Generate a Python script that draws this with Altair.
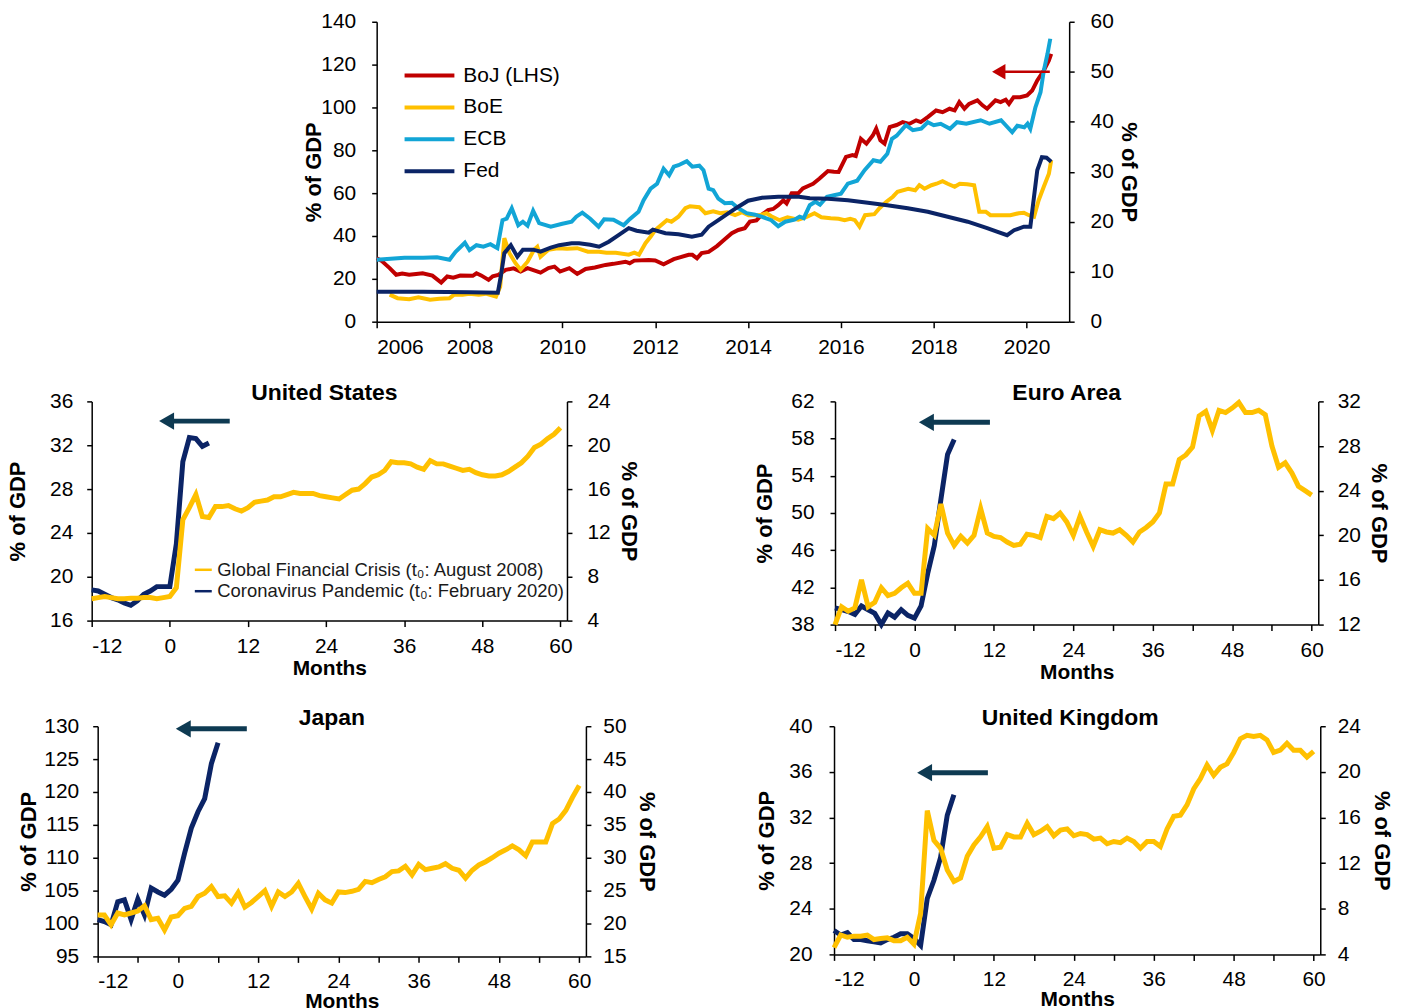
import altair as alt
import pandas as pd

FONT = "Liberation Sans"
NAVY = "#0B2466"
GOLD = "#FFC000"
RED = "#C00000"
SKY = "#12A5D6"
ARROW = "#0E3A52"

# ---------------- top panel: central bank balance sheets (% of GDP) ----------------
boj_t = [2006.00, 2006.10, 2006.28, 2006.42, 2006.55, 2006.70, 2006.85, 2006.99, 2007.20, 2007.39,
         2007.52, 2007.65, 2007.80, 2008.07, 2008.15, 2008.25, 2008.41, 2008.50, 2008.62, 2008.78,
         2008.95, 2009.10, 2009.25, 2009.53, 2009.70, 2009.83, 2009.95, 2010.15, 2010.32, 2010.50,
         2010.70, 2010.93, 2011.10, 2011.36, 2011.45, 2011.55, 2011.86, 2012.00, 2012.18, 2012.40,
         2012.72, 2012.80, 2012.90, 2013.00, 2013.15, 2013.33, 2013.48, 2013.65, 2013.79, 2013.93,
         2014.04, 2014.18, 2014.29, 2014.43, 2014.54, 2014.65, 2014.76, 2014.83, 2014.94, 2015.08,
         2015.18, 2015.33, 2015.40, 2015.54, 2015.72, 2015.85, 2015.95, 2016.11, 2016.25, 2016.32,
         2016.43, 2016.55, 2016.69, 2016.76, 2016.85, 2016.94, 2017.05, 2017.20, 2017.33, 2017.47,
         2017.62, 2017.72, 2017.87, 2018.05, 2018.19, 2018.34, 2018.45, 2018.55, 2018.66, 2018.76,
         2018.94, 2019.05, 2019.15, 2019.33, 2019.44, 2019.55, 2019.62, 2019.72, 2019.86, 2020.01,
         2020.12, 2020.23, 2020.37, 2020.48, 2020.53]
boj_v = [29.6, 28.5, 25.0, 21.9, 22.5, 21.9, 22.3, 22.6, 21.5, 18.3,
         21.1, 20.5, 21.5, 21.4, 22.6, 21.6, 19.5, 21.2, 21.8, 24.2,
         24.9, 23.4, 25.0, 22.9, 25.0, 25.7, 23.4, 25.0, 22.3, 24.6,
         25.3, 26.5, 27.0, 28.0, 27.3, 28.5, 28.8, 28.6, 26.8, 29.2,
         31.2, 31.2, 29.6, 32.0, 32.6, 35.3, 38.1, 41.3, 42.8, 43.6,
         46.7, 47.3, 49.8, 52.1, 52.6, 54.4, 56.7, 55.2, 59.9, 59.9,
         62.2, 63.7, 64.4, 66.8, 70.3, 70.0, 69.9, 76.9, 77.8, 77.3,
         85.4, 83.1, 87.0, 90.1, 84.7, 83.1, 90.8, 91.8, 93.2, 92.3,
         94.0, 93.2, 95.5, 98.6, 97.8, 99.4, 98.6, 102.5, 99.4, 101.7,
         103.3, 101.0, 99.4, 103.3, 102.5, 103.6, 101.7, 104.8, 104.8, 105.6,
         107.9, 112.6, 117.2, 121.9, 125.0]

boe_t = [2006.28, 2006.45, 2006.70, 2006.90, 2007.15, 2007.35, 2007.57, 2007.67, 2007.85, 2008.00,
         2008.20, 2008.35, 2008.57, 2008.66, 2008.75, 2008.86, 2008.99, 2009.10, 2009.25, 2009.39,
         2009.46, 2009.53, 2009.70, 2009.90, 2010.10, 2010.32, 2010.55, 2010.79, 2010.95, 2011.15,
         2011.43, 2011.55, 2011.65, 2011.79, 2011.90, 2012.00, 2012.25, 2012.35, 2012.50, 2012.65,
         2012.75, 2012.95, 2013.08, 2013.25, 2013.40, 2013.55, 2013.72, 2013.87, 2014.01, 2014.25,
         2014.40, 2014.50, 2014.68, 2014.85, 2015.08, 2015.25, 2015.43, 2015.58, 2015.78, 2015.95,
         2016.08, 2016.20, 2016.30, 2016.40, 2016.52, 2016.72, 2016.83, 2016.98, 2017.12, 2017.22,
         2017.45, 2017.60, 2017.69, 2017.80, 2017.95, 2018.06, 2018.19, 2018.30, 2018.45, 2018.56,
         2018.72, 2018.87, 2018.98, 2019.12, 2019.22, 2019.45, 2019.65, 2019.83, 2019.94, 2020.05,
         2020.16, 2020.26, 2020.37, 2020.48, 2020.53]
boe_v = [5.4, 4.7, 4.5, 4.9, 4.4, 4.6, 4.7, 5.4, 5.4, 5.6,
         5.4, 5.6, 5.0, 7.0, 16.7, 13.7, 11.7, 10.4, 12.0, 14.4,
         15.0, 13.0, 14.4, 14.7, 14.6, 14.7, 14.0, 14.0, 13.8, 13.8,
         13.4, 13.8, 13.4, 15.7, 17.0, 18.3, 20.3, 20.0, 21.0, 22.7,
         23.1, 22.9, 21.7, 22.1, 21.7, 21.9, 21.3, 21.9, 21.3, 21.3,
         21.7, 21.1, 20.3, 20.9, 20.4, 20.9, 21.7, 20.9, 20.7, 20.6,
         20.3, 20.6, 20.3, 19.0, 21.3, 21.5, 22.7, 24.0, 25.0, 26.0,
         26.6, 26.3, 27.3, 26.6, 27.3, 27.6, 28.1, 27.6, 27.0, 27.6,
         27.5, 27.3, 22.0, 22.0, 21.3, 21.3, 21.3, 21.7, 21.8, 21.3,
         21.0, 24.3, 27.0, 29.6, 32.3]

ecb_t = [2006.00, 2006.30, 2006.60, 2007.00, 2007.30, 2007.57, 2007.70, 2007.90, 2008.00, 2008.15,
         2008.30, 2008.45, 2008.60, 2008.71, 2008.80, 2008.91, 2009.05, 2009.15, 2009.25, 2009.37,
         2009.50, 2009.75, 2010.00, 2010.20, 2010.30, 2010.43, 2010.60, 2010.78, 2010.90, 2011.10,
         2011.32, 2011.45, 2011.64, 2011.75, 2011.90, 2012.04, 2012.18, 2012.30, 2012.40, 2012.50,
         2012.68, 2012.80, 2012.95, 2013.04, 2013.15, 2013.25, 2013.36, 2013.50, 2013.65, 2013.79,
         2013.97, 2014.15, 2014.29, 2014.50, 2014.65, 2014.80, 2015.00, 2015.11, 2015.20, 2015.33,
         2015.45, 2015.55, 2015.70, 2015.85, 2016.00, 2016.15, 2016.35, 2016.51, 2016.70, 2016.85,
         2017.00, 2017.10, 2017.20, 2017.40, 2017.55, 2017.73, 2017.87, 2018.00, 2018.15, 2018.35,
         2018.50, 2018.70, 2019.01, 2019.20, 2019.45, 2019.69, 2019.80, 2019.95, 2020.02, 2020.08,
         2020.19, 2020.30, 2020.37, 2020.45, 2020.51]
ecb_v = [12.4, 12.6, 12.8, 12.8, 12.9, 12.4, 14.0, 15.8, 14.3, 15.3,
         15.0, 15.5, 14.7, 20.3, 20.6, 22.7, 19.3, 20.0, 19.2, 22.2,
         19.7, 19.0, 19.6, 20.0, 21.0, 21.8, 20.6, 19.0, 20.5, 20.4,
         19.3, 20.5, 22.0, 24.3, 26.6, 27.6, 30.6, 29.3, 31.0, 31.3,
         32.1, 31.0, 31.2, 30.3, 26.6, 26.3, 24.6, 23.7, 23.8, 22.7,
         21.7, 21.4, 21.0, 20.3, 19.1, 20.0, 20.4, 21.0, 20.7, 23.3,
         24.0, 23.4, 25.0, 25.3, 25.6, 27.6, 28.2, 30.3, 32.3, 32.0,
         33.6, 36.6, 37.2, 39.3, 38.3, 38.6, 39.9, 39.3, 39.6, 38.6,
         39.9, 39.6, 40.3, 39.6, 40.3, 37.9, 39.2, 38.9, 39.6, 38.6,
         42.9, 45.9, 50.2, 53.6, 56.6]

fed_t = [2006.00, 2007.00, 2008.00, 2008.61, 2008.68, 2008.75, 2008.89, 2009.03, 2009.15, 2009.37,
         2009.53, 2009.75, 2009.93, 2010.20, 2010.36, 2010.60, 2010.79, 2011.00, 2011.21, 2011.43,
         2011.60, 2011.86, 2011.95, 2012.22, 2012.50, 2012.79, 2013.00, 2013.15, 2013.36, 2013.58,
         2013.79, 2014.00, 2014.30, 2014.65, 2014.90, 2015.10, 2015.33, 2015.72, 2016.15, 2016.58,
         2017.00, 2017.44, 2017.87, 2018.30, 2018.73, 2019.15, 2019.36, 2019.58, 2019.73, 2019.94,
         2020.08, 2020.23, 2020.33, 2020.43, 2020.53]
fed_v = [6.0, 6.0, 5.9, 5.8, 9.4, 13.7, 15.3, 13.0, 14.4, 14.4,
         14.0, 14.8, 15.3, 15.7, 15.7, 15.4, 15.0, 16.0, 17.3, 18.7,
         18.2, 17.8, 18.4, 17.7, 17.5, 17.0, 17.4, 19.0, 20.3, 21.7,
         23.0, 24.2, 24.8, 25.0, 25.0, 25.0, 24.7, 24.6, 24.3, 23.8,
         23.3, 22.7, 22.0, 21.0, 20.0, 18.7, 18.0, 17.3, 18.3, 19.0,
         19.0, 30.3, 32.9, 32.8, 32.0]

BANKS = ["BoJ (LHS)", "BoE", "ECB", "Fed"]
BANK_COLORS = [RED, GOLD, SKY, NAVY]

# ---------------- panels: months from t0 ----------------
GFC = "Global Financial Crisis (t\u2080: August 2008)"
COV = "Coronavirus Pandemic (t\u2080: February 2020)"

us_cov = [18.8, 18.7, 18.4, 18.1, 17.9, 17.6, 17.4, 17.8, 18.4, 18.7, 19.1, 19.1, 19.1,
          23.0, 30.5, 32.7, 32.6, 31.9, 32.2]
us_gfc = [6.0, 6.1, 6.2, 6.1, 6.0, 6.0, 6.05, 6.05, 6.1, 6.1, 6.0, 6.1, 6.2,
          7.0, 13.2, 14.3, 15.5, 13.5, 13.4, 14.4, 14.4, 14.5, 14.2,
          14.0, 14.3, 14.8, 14.9, 15.0, 15.3, 15.3, 15.5, 15.7, 15.6,
          15.6, 15.6, 15.4, 15.3, 15.2, 15.1, 15.5, 15.9, 16.0, 16.5,
          17.1, 17.3, 17.7, 18.5, 18.4, 18.4, 18.3, 18.0, 17.8, 18.6,
          18.3, 18.3, 18.1, 17.9, 17.7, 17.8, 17.5, 17.3, 17.2, 17.2,
          17.3, 17.6, 18.0, 18.4, 19.0, 19.8, 20.1, 20.6, 21.0, 21.6]

ea_cov = [39.8, 39.6, 39.4, 39.1, 40.0, 39.6, 39.2, 38.0, 39.25, 38.8, 39.6, 39.0, 38.7,
          40.0, 43.5, 46.5, 51.5, 56.3, 57.9]
ea_gfc = [12.0, 13.6, 13.2, 13.5, 16.0, 13.6, 14.0, 15.3, 14.6, 14.8, 15.3, 15.7, 14.8,
          14.8, 20.6, 20.0, 22.8, 20.2, 19.1, 19.9, 19.3, 20.0, 22.4,
          20.2, 19.9, 19.8, 19.4, 19.1, 19.2, 20.1, 20.0, 19.8, 21.7,
          21.5, 22.0, 21.2, 20.0, 21.7, 20.3, 19.0, 20.5, 20.3, 20.2,
          20.5, 20.0, 19.4, 20.3, 20.7, 21.2, 22.0, 24.6, 24.6, 26.8,
          27.2, 27.9, 30.7, 31.1, 29.4, 31.2, 31.0, 31.4, 31.9, 31.0,
          31.0, 31.2, 30.8, 28.0, 26.1, 26.5, 25.6, 24.4, 24.0, 23.6]

jp_cov = [100.6, 100.3, 99.8, 103.3, 103.6, 100.6, 103.7, 101.3, 105.4, 104.8, 104.3, 105.2, 106.6,
          110.7, 114.5, 117.0, 119.0, 124.3, 127.5]
jp_gfc = [21.3, 21.3, 19.8, 21.6, 21.3, 21.6, 21.9, 22.7, 20.6, 20.8, 19.0, 21.0, 21.2,
          22.3, 22.6, 24.1, 24.6, 25.6, 24.1, 24.2, 23.1, 24.7, 22.5,
          23.2, 24.1, 25.0, 22.6, 24.8, 24.1, 24.8, 26.1, 24.1, 22.2,
          24.6, 23.6, 23.1, 24.8, 24.7, 24.9, 25.2, 26.4, 26.2, 26.7,
          27.1, 27.9, 28.0, 28.7, 27.4, 29.0, 28.2, 28.4, 28.6, 29.1,
          28.4, 28.1, 26.9, 28.1, 28.9, 29.4, 30.0, 30.7, 31.2, 31.8,
          31.2, 30.3, 32.4, 32.4, 32.4, 35.2, 35.9, 37.2, 39.2, 41.0]

uk_cov = [22.1, 21.7, 21.9, 21.3, 21.3, 21.2, 21.1, 21.0, 21.3, 21.5, 21.8, 21.8, 21.4,
          20.8, 24.9, 26.5, 28.5, 32.2, 34.0]
uk_gfc = [4.6, 5.7, 5.5, 5.6, 5.6, 5.7, 5.3, 5.4, 5.45, 5.2, 5.2, 5.5, 4.9,
          7.6, 16.6, 14.0, 13.3, 11.4, 10.4, 10.7, 12.6, 13.6, 14.3,
          15.2, 13.3, 13.4, 14.5, 14.3, 14.3, 15.5, 14.5, 14.8, 15.2,
          14.4, 14.9, 15.0, 14.4, 14.6, 14.5, 14.1, 14.2, 13.7, 13.9,
          13.8, 14.2, 13.9, 13.3, 13.9, 13.9, 13.45, 15.0, 16.1, 16.2,
          17.1, 18.5, 19.4, 20.6, 19.7, 20.4, 20.7, 21.7, 22.9, 23.2,
          23.1, 23.2, 22.8, 21.7, 21.9, 22.5, 21.9, 21.9, 21.3, 21.8]

# arrows (annotation, data units: start, shaft end, head centre, level)
top_arrow = {"t": 2020.50, "t2": 2019.45, "head": 2019.40, "v": 50}
us_arrow = {"m": 9.2, "m2": 0.3, "head": -0.5, "v": 34.2}
ea_arrow = {"m": 11.4, "m2": 2.5, "head": 1.8, "v": 59.75}
jp_arrow = {"m": 10.3, "m2": 1.4, "head": 0.8, "v": 129.6}
uk_arrow = {"m": 11.1, "m2": 2.3, "head": 1.6, "v": 35.93}


# ---------------- top chart ----------------
TOP_XDOM = [2006, 2020.917]
top_x = alt.X("t:Q", scale=alt.Scale(domain=TOP_XDOM, nice=False, zero=False),
              axis=alt.Axis(values=list(range(2006, 2021, 2)), format="d", title=None,
                            labelPadding=9, tickSize=6))
top_color = alt.Color("bank:N", scale=alt.Scale(domain=BANKS, range=BANK_COLORS),
                      legend=alt.Legend(title=None, orient="none", legendX=41, legendY=42,
                                        symbolType="M-2.5,0H2.5", symbolSize=400,
                                        symbolStrokeWidth=4, labelFont=FONT, labelFontSize=21,
                                        labelColor="black", labelOffset=22, rowPadding=10,
                                        padding=0))
yl_top = alt.Y("v:Q", scale=alt.Scale(domain=[0, 140], nice=False),
               axis=alt.Axis(values=list(range(0, 141, 20)), orient="left", title="% of GDP",
                             labelPadding=16, titlePadding=-5))
yr_top = alt.Y("v:Q", scale=alt.Scale(domain=[0, 60], nice=False),
               axis=alt.Axis(values=list(range(0, 61, 10)), orient="right", title="% of GDP",
                             titleAngle=90, labelPadding=16, titlePadding=3))

left_df = pd.DataFrame({"t": boj_t, "v": boj_v, "bank": "BoJ (LHS)"})
right_df = pd.concat([
    pd.DataFrame({"t": boe_t, "v": boe_v, "bank": "BoE"}),
    pd.DataFrame({"t": ecb_t, "v": ecb_v, "bank": "ECB"}),
    pd.DataFrame({"t": fed_t, "v": fed_v, "bank": "Fed"}),
])
top_arrow_df = pd.DataFrame([top_arrow])

left_layer = alt.Chart(left_df).mark_line(strokeWidth=4).encode(x=top_x, y=yl_top, color=top_color)
right_lines = alt.Chart(right_df).mark_line(strokeWidth=4).encode(x=top_x, y=yr_top, color=top_color)
right_rule = alt.Chart(top_arrow_df).mark_rule(strokeWidth=2.5, color=RED).encode(
    x=top_x, x2="t2:Q", y=yr_top)
right_head = alt.Chart(top_arrow_df).mark_point(shape="triangle-left", filled=True, size=240,
                                                 color=RED, opacity=1).encode(
    x=alt.X("head:Q", scale=alt.Scale(domain=TOP_XDOM, nice=False, zero=False)), y=yr_top)
right_layer = alt.layer(right_lines, right_rule, right_head)

top = alt.layer(left_layer, right_layer).resolve_scale(y="independent").properties(
    width=695, height=301)


def spacer(w):
    return alt.Chart(pd.DataFrame({"a": [0]})).mark_point(opacity=0).encode(
        x=alt.value(0), y=alt.value(0)).properties(width=w, height=10)


top_row = alt.hconcat(spacer(300), top, spacing=0).resolve_scale(
    color="independent").resolve_legend(color="independent")


# ---------------- panels ----------------
def panel(title, cov, gfc, ldom, lstep, rdom, rstep, w, h, arrow, legend=False,
          lpad=14, ltp=13, rpad=12, rtp=6, title_off=-15, title_dx=0, xlp=9, xtp=1):
    xdom = [-12, 61]
    x = alt.X("m:Q", scale=alt.Scale(domain=xdom, nice=False, zero=False),
              axis=alt.Axis(values=list(range(-12, 61, 6)),
                            labelExpr="datum.value % 12 == 0 ? '' + datum.value : ''",
                            title="Months", titleFontSize=21, titlePadding=xtp,
                            labelPadding=xlp, tickSize=6))
    yl = alt.Y("v:Q", scale=alt.Scale(domain=ldom, nice=False, zero=False),
               axis=alt.Axis(values=list(range(ldom[0], ldom[1] + 1, lstep)), orient="left",
                             title="% of GDP", labelPadding=lpad, titlePadding=ltp))
    yr = alt.Y("v:Q", scale=alt.Scale(domain=rdom, nice=False, zero=False),
               axis=alt.Axis(values=list(range(rdom[0], rdom[1] + 1, rstep)), orient="right",
                             title="% of GDP", titleAngle=90, labelPadding=rpad,
                             titlePadding=rtp))
    cov_df = pd.DataFrame({"m": list(range(-12, -12 + len(cov))), "v": cov, "s": COV})
    gfc_df = pd.DataFrame({"m": list(range(-12, -12 + len(gfc))), "v": gfc, "s": GFC})
    if legend:
        leg = alt.Legend(title=None, orient="none", legendX=102, legendY=159,
                         symbolType="stroke", symbolSize=289, symbolStrokeWidth=2.5,
                         labelFont=FONT, labelFontSize=18.5, labelColor="#1a1a1a",
                         labelOffset=4, rowPadding=1.5, padding=0, labelLimit=500)
    else:
        leg = None
    color = alt.Color("s:N", scale=alt.Scale(domain=[GFC, COV], range=[GOLD, NAVY]), legend=leg)
    adf = pd.DataFrame([arrow])
    cov_line = alt.Chart(cov_df).mark_line(strokeWidth=5).encode(x=x, y=yl, color=color)
    a_rule = alt.Chart(adf).mark_rule(strokeWidth=5, color=ARROW).encode(x=x, x2="m2:Q", y=yl)
    a_head = alt.Chart(adf).mark_point(shape="triangle-left", filled=True, size=300,
                                       color=ARROW, opacity=1).encode(
        x=alt.X("head:Q", scale=alt.Scale(domain=xdom, nice=False, zero=False)), y=yl)
    gfc_line = alt.Chart(gfc_df).mark_line(strokeWidth=5).encode(x=x, y=yr, color=color)
    left = alt.layer(cov_line, a_rule, a_head)
    return alt.layer(left, gfc_line).resolve_scale(y="independent").properties(
        width=w, height=h,
        title=alt.TitleParams(title, font=FONT, fontSize=23, fontWeight="bold", color="black",
                              anchor="middle", offset=title_off, dx=title_dx))


us = panel("United States", us_cov, us_gfc, [16, 36], 4, [4, 24], 4, 477, 220, us_arrow,
           legend=True, lpad=14, ltp=20, rpad=15, rtp=6, title_dx=-5)
ea = panel("Euro Area", ea_cov, ea_gfc, [38, 62], 4, [12, 32], 4, 485, 224, ea_arrow,
           lpad=16, ltp=14, rpad=14, rtp=6, title_dx=-10)
jp = panel("Japan", jp_cov, jp_gfc, [95, 130], 5, [15, 50], 5, 490, 231, jp_arrow,
           lpad=14, ltp=3, rpad=12, rtp=8, title_dx=-10, xlp=8, xtp=-1)
uk = panel("United Kingdom", uk_cov, uk_gfc, [20, 40], 4, [4, 24], 4, 488, 229, uk_arrow,
           lpad=17, ltp=10, rpad=12, rtp=9, title_dx=-7, xlp=8, xtp=-1)

us_cell = alt.hconcat(spacer(1), us, spacing=0).resolve_scale(color="independent").resolve_legend(
    color="independent")
row1 = alt.hconcat(us_cell, ea, spacing=114).resolve_scale(color="independent").resolve_legend(
    color="independent")
jp_cell = alt.hconcat(spacer(14), jp, spacing=0).resolve_scale(color="independent")
row2 = alt.hconcat(jp_cell, uk, spacing=98).resolve_scale(color="independent").resolve_legend(
    color="independent")

chart = alt.vconcat(top_row, row1, row2, spacing=25).resolve_scale(
    color="independent").resolve_legend(color="independent").properties(
    padding={"left": -8, "top": 1, "right": 2, "bottom": 0},
    background="white",
).configure_view(stroke=None).configure_axis(
    grid=False, domainColor="black", domainWidth=1.5, tickColor="black", tickWidth=1.5,
    labelFont=FONT, labelFontSize=21, labelColor="black",
    titleFont=FONT, titleFontSize=22, titleFontWeight="bold", titleColor="black",
)

chart.save("out.html", embed_options={"renderer": "svg", "actions": False})
